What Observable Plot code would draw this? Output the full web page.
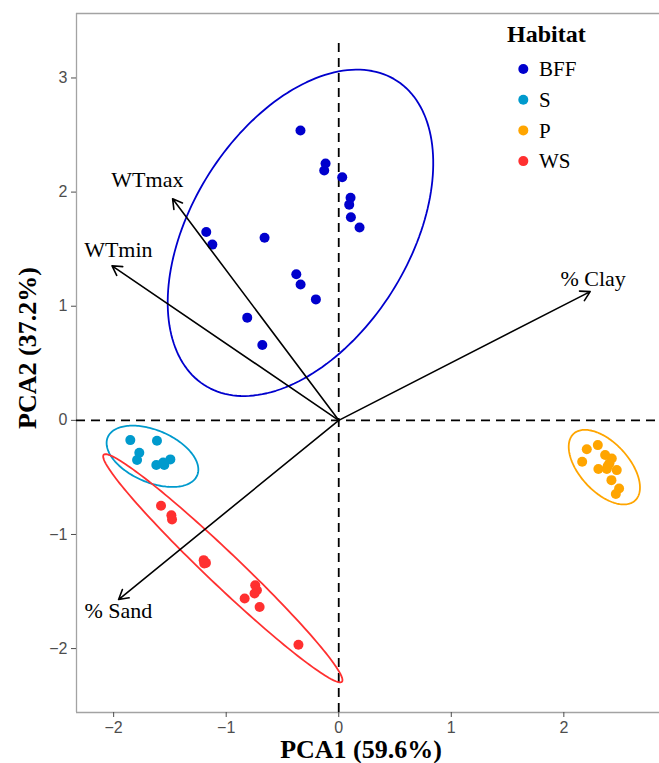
<!DOCTYPE html>
<html>
<head>
<meta charset="utf-8">
<script src="https://cdn.jsdelivr.net/npm/d3@7"></script>
<script src="https://cdn.jsdelivr.net/npm/@observablehq/plot@0.6"></script>
<style>
  html, body { margin: 0; padding: 0; background: #fff; overflow: hidden; }
  #wrap { position: relative; width: 659px; height: 763px; }
  #legend { position: absolute; left: 495px; top: 0px; }
</style>
</head>
<body>
<div id="wrap"></div>
<script>
// ---- Data ----
const habitats = ["BFF", "S", "P", "WS"];
const habitatColors = ["#0000CD", "#009ACD", "#FFA500", "#FF3030"];

const bffX = [-0.34, -0.117, -0.129, 0.031, 0.105, 0.093, 0.108, 0.185, -1.177, -1.123, -0.659, -0.377, -0.339, -0.203, -0.813, -0.679];
const bffY = [2.54, 2.25, 2.19, 2.13, 1.95, 1.89, 1.78, 1.69, 1.65, 1.54, 1.60, 1.28, 1.19, 1.06, 0.90, 0.66];

const sX = [-1.852, -1.615, -1.772, -1.792, -1.621, -1.55, -1.496, -1.56];
const sY = [-0.173, -0.179, -0.284, -0.348, -0.392, -0.392, -0.342, -0.37];

const pX = [2.204, 2.302, 2.163, 2.367, 2.426, 2.405, 2.307, 2.382, 2.470, 2.423, 2.491, 2.462, 2.39];
const pY = [-0.254, -0.217, -0.363, -0.304, -0.334, -0.377, -0.427, -0.427, -0.436, -0.524, -0.597, -0.646, -0.40];

const wsX = [-1.579, -1.487, -1.481, -1.20, -1.18, -1.195, -0.742, -0.727, -0.748, -0.836, -0.703, -0.358];
const wsY = [-0.749, -0.831, -0.869, -1.225, -1.249, -1.255, -1.445, -1.489, -1.518, -1.561, -1.635, -1.967];

// confidence ellipses: centre, semi-axes, rotation (deg)
const ellipseHabitat = ["BFF", "S", "P", "WS"];
const ellipseCX = [-0.34, -1.655, 2.36, -1.03];
const ellipseCY = [1.643, -0.315, -0.41, -1.296];
const ellipseA = [1.584, 0.431, 0.40, 1.452];
const ellipseB = [0.963, 0.229, 0.217, 0.145];
const ellipseAngle = [57.2, -22.6, -46.7, -43.2];

// loading arrows
const varNames = ["WTmax", "WTmin", "% Clay", "% Sand"];
const loadX = [-1.476, -2.014, 2.234, -1.956];
const loadY = [1.941, 1.354, 1.128, -1.570];
const labelX = [-1.70, -1.958, 2.26, -1.958];
const labelY = [2.11, 1.494, 1.24, -1.673];

const xTicks = [-2, -1, 0, 1, 2];
const yTicks = [-2, -1, 0, 1, 2, 3];
const xDomain = [-2.33, 2.85];
const yDomain = [-2.56, 3.565];
const xTitle = "PCA1 (59.6%)";
const yTitle = "PCA2 (37.2%)";
const legendTitle = "Habitat";

// ---- Build tables ----
const groups = {BFF: [bffX, bffY], S: [sX, sY], P: [pX, pY], WS: [wsX, wsY]};
const points = [];
for (const h of habitats) {
  const [xs, ys] = groups[h];
  xs.forEach((x, i) => points.push({habitat: h, x, y: ys[i]}));
}
const ellipsePts = [];
ellipseHabitat.forEach((h, k) => {
  const th = ellipseAngle[k] * Math.PI / 180;
  for (let d = 0; d <= 360; d += 2) {
    const t = d * Math.PI / 180;
    const ex = ellipseA[k] * Math.cos(t), ey = ellipseB[k] * Math.sin(t);
    ellipsePts.push({habitat: h,
      x: ellipseCX[k] + ex * Math.cos(th) - ey * Math.sin(th),
      y: ellipseCY[k] + ex * Math.sin(th) + ey * Math.cos(th)});
  }
});
const arrows = varNames.map((v, i) => ({v, x: loadX[i], y: loadY[i], lx: labelX[i], ly: labelY[i]}));

const serif = "Liberation Serif, Times New Roman, serif";
const intFmt = d3.format("d");

const chart = Plot.plot({
  width: 659,
  height: 763,
  marginLeft: 76,
  marginRight: 0,
  marginTop: 13,
  marginBottom: 51,
  style: {fontFamily: "Liberation Sans, Arial, sans-serif", fontSize: "16px", background: "#fff"},
  x: {domain: xDomain},
  y: {domain: yDomain},
  color: {domain: habitats, range: habitatColors},
  marks: [
    Plot.ruleY([yDomain[0], yDomain[1]], {stroke: "#a3a3a3", strokeWidth: 1.3}),
    Plot.ruleX([xDomain[0]], {stroke: "#a3a3a3", strokeWidth: 1.3}),
    Plot.axisX({ticks: xTicks, tickFormat: intFmt, tickSize: 5, tickPadding: 4, color: "#4d4d4d", label: null, fontSize: 16}),
    Plot.axisY({ticks: yTicks, tickFormat: intFmt, tickSize: 5, tickPadding: 4, color: "#4d4d4d", label: null, fontSize: 16}),
    Plot.ruleY([0], {strokeDasharray: "9,6", strokeWidth: 1.8, stroke: "#000"}),
    Plot.ruleX([0], {y1: yDomain[0], y2: 3.32, strokeDasharray: "9,6", strokeWidth: 1.8, stroke: "#000"}),
    Plot.line(ellipsePts, {x: "x", y: "y", z: "habitat", stroke: "habitat", strokeWidth: 1.8, curve: "linear"}),
    Plot.dot(points, {x: "x", y: "y", fill: "habitat", r: 5, stroke: null}),
    Plot.arrow(arrows, {x1: 0, y1: 0, x2: "x", y2: "y", stroke: "#000", strokeWidth: 1.6, headLength: 10, headAngle: 60}),
    Plot.text(arrows, {x: "lx", y: "ly", text: "v", fontSize: 22, fontFamily: serif, fill: "#000"}),
    Plot.text([xTitle], {text: d => d, frameAnchor: "bottom", textAnchor: "middle", lineAnchor: "middle", dx: -7, dy: 37, fontSize: 26, fontWeight: "bold", fontFamily: serif, fill: "#000"}),
    Plot.text([yTitle], {text: d => d, frameAnchor: "left", textAnchor: "middle", lineAnchor: "middle", rotate: -90, dx: -49, dy: -15, fontSize: 26, fontWeight: "bold", fontFamily: serif, fill: "#000"})
  ]
});
const wrap = document.getElementById("wrap");
wrap.appendChild(chart);

// ---- Legend (overlay) ----
const leg = d3.create("svg").attr("id", "legend").attr("width", 164).attr("height", 180)
  .style("font-family", serif);
leg.append("text").attr("x", 12).attr("y", 42).attr("font-size", 24).attr("font-weight", "bold").text(legendTitle);
habitats.forEach((h, i) => {
  const cy = 69 + i * 30.7;
  leg.append("circle").attr("cx", 28.3).attr("cy", cy).attr("r", 5).attr("fill", habitatColors[i]);
  leg.append("text").attr("x", 44).attr("y", cy).attr("dy", "0.35em").attr("font-size", 21).text(h);
});
wrap.appendChild(leg.node());
</script>
</body>
</html>
